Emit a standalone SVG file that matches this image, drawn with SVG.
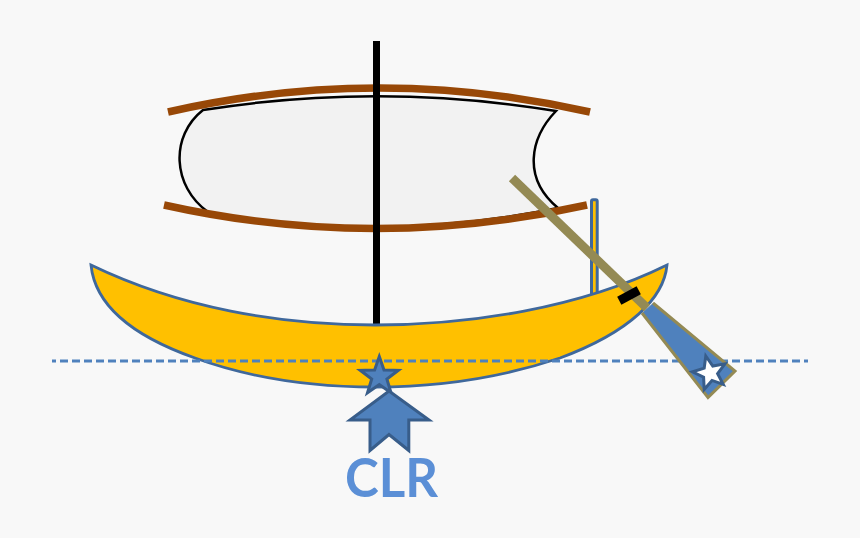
<svg xmlns="http://www.w3.org/2000/svg" width="860" height="538" viewBox="0 0 860 538">
<style>
.yard{fill:none;stroke:#984807;stroke-width:7.500}
.blue{fill:#4F81BD;stroke:#385D8A;stroke-width:3;stroke-linejoin:miter;stroke-miterlimit:10}
.hull{fill:#FFC000;stroke:#3F689C;stroke-width:2.800}
</style>
<rect width="860" height="538" fill="#F8F8F8"/>
<g id="sail"><path d="M203,110 Q380,82 556,111 C530,138 522,178 558,208 Q380,244 208,212 C172,186 170,136 203,110Z" fill="#F2F2F2" stroke="#000" stroke-width="2.500"/></g>
<g id="yards">
<path class="yard" d="M168,112 Q379,64 590,112"/>
<path class="yard" d="M164,205 Q375,252 587,205"/>
</g>
<g id="mast"><rect x="373" y="41" width="7" height="283" fill="#000"/></g>
<g id="post"><rect x="591.500" y="199.800" width="5.700" height="97" rx="1.500" fill="#FFC000" stroke="#3F689C" stroke-width="3"/></g>
<g id="hull"><path class="hull" d="M91,265 C180,308 280,325 375,325 C470,325 580,308 667,265 C664,298 630,332 560,358 C500,378 440,387 375,387 C310,387 250,378 195,358 C130,335 95,305 91,265Z"/></g>
<g id="connectors"><line x1="52" y1="361" x2="808" y2="361" stroke="#4F81BD" stroke-width="3" stroke-dasharray="8 4" stroke-dashoffset="4"/></g>
<g id="oar">
<path d="M642,313 L708,397.500 L735,371 L653,303Z" fill="#4F81BD"/>
<path d="M642,313 L708,397.500 L735,371 L653,303" fill="none" stroke="#948A54" stroke-width="3"/>
<line x1="512" y1="178" x2="647" y2="308" stroke="#948A54" stroke-width="9"/>
<rect x="618" y="291" width="22" height="9" transform="rotate(-28 629 295.500)" fill="#000"/>
</g>
<g id="star-oar"><path d="M705.800,356 L712.800,366 L724.900,363.800 L717.600,373.600 L723.200,384.400 L712,380.400 L704.200,389.500 L703.600,377.100 L692.500,371.800 L704.200,368.100Z" fill="#fff" stroke="#385D8A" stroke-width="3" stroke-miterlimit="10"/></g>
<g id="star-clr"><path class="blue" d="M379.300,356.500 L384,370 L398.300,370.300 L386.900,379 L391,392.700 L379.300,384.500 L367.500,392.700 L371.700,379 L360.300,370.300 L374.600,370Z"/></g>
<g id="arrow"><path class="blue" d="M389,391 L429,420 L408.800,420 L408.800,450.500 L389,434.500 L370,450.500 L370,420 L350,420Z"/></g>
<g id="label"><text x="391.500" y="497" text-anchor="middle" font-family="Lato, 'Open Sans', sans-serif" font-weight="700" font-size="54" textLength="93" lengthAdjust="spacingAndGlyphs" fill="#5B8FD6">CLR</text></g>
</svg>
